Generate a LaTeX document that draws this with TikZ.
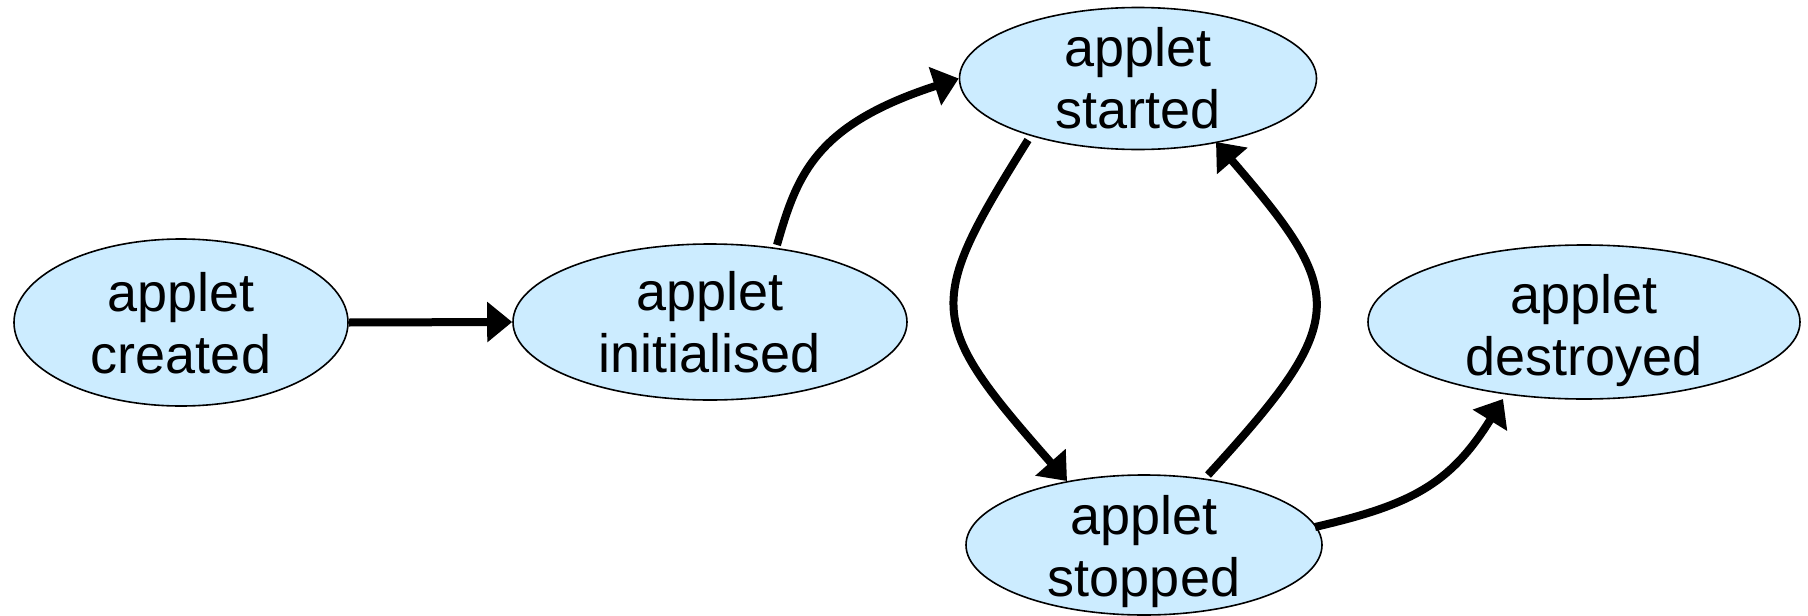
\documentclass[tikz,border=0pt]{standalone}
\usepackage{fontspec}
\setmainfont{Liberation Sans}
\usetikzlibrary{arrows.meta,shapes.geometric,calc}
\definecolor{statefill}{RGB}{204,236,255}
\begin{document}
\begin{tikzpicture}[x=1pt,y=-1pt,
  statebox/.style={ellipse,draw=black,line width=1.6pt,fill=statefill,inner sep=0pt},
  lbl/.style={align=center,inner sep=0pt,font=\fontsize{54}{62}\selectfont},
  conn/.style={line width=8pt,-{Triangle[length=25pt,width=39pt]}}]
\useasboundingbox (0,0) rectangle (1808,616);
% states
\node[statebox,minimum width=334pt,minimum height=167pt] (created) at (181,322.5) {};
\node[statebox,minimum width=394pt,minimum height=156pt] (initialised) at (710,322) {};
\node[statebox,minimum width=357pt,minimum height=142pt] (started) at (1138,78.5) {};
\node[statebox,minimum width=356pt,minimum height=140pt] (stopped) at (1144,545) {};
\node[statebox,minimum width=432pt,minimum height=154pt] (destroyed) at (1584,322) {};
% labels
\node[lbl] (created-t) at (181,330.5) {\strut applet\\\strut created};
\node[lbl] (initialised-t) at (710,328.6) {\strut applet\\\strut initialised};
\node[lbl] (started-t) at (1138,85) {\strut applet\\\strut started};
\node[lbl] (stopped-t) at (1144,553) {\strut applet\\\strut stopped};
\node[lbl] (destroyed-t) at (1584,332) {\strut applet\\\strut destroyed};
% connectors
\draw[conn] (created.east) -- (initialised.west);
\draw[conn] ($(initialised)+(67,-77)$) .. controls (797,175) and (815,125) .. (started.west);
\draw[conn] ($(started)+(-110,61.5)$) .. controls (925,305) and (925,320) .. ($(stopped)+(-77,-64)$);
\draw[conn] ($(stopped)+(64,-70)$) .. controls (1350,320) and (1348,295) .. ($(started)+(78,63.5)$);
\draw[conn] ($(stopped)+(171,-18)$) .. controls (1410,505) and (1450,485) .. ($(destroyed)+(-81,77)$);
\end{tikzpicture}
\end{document}
